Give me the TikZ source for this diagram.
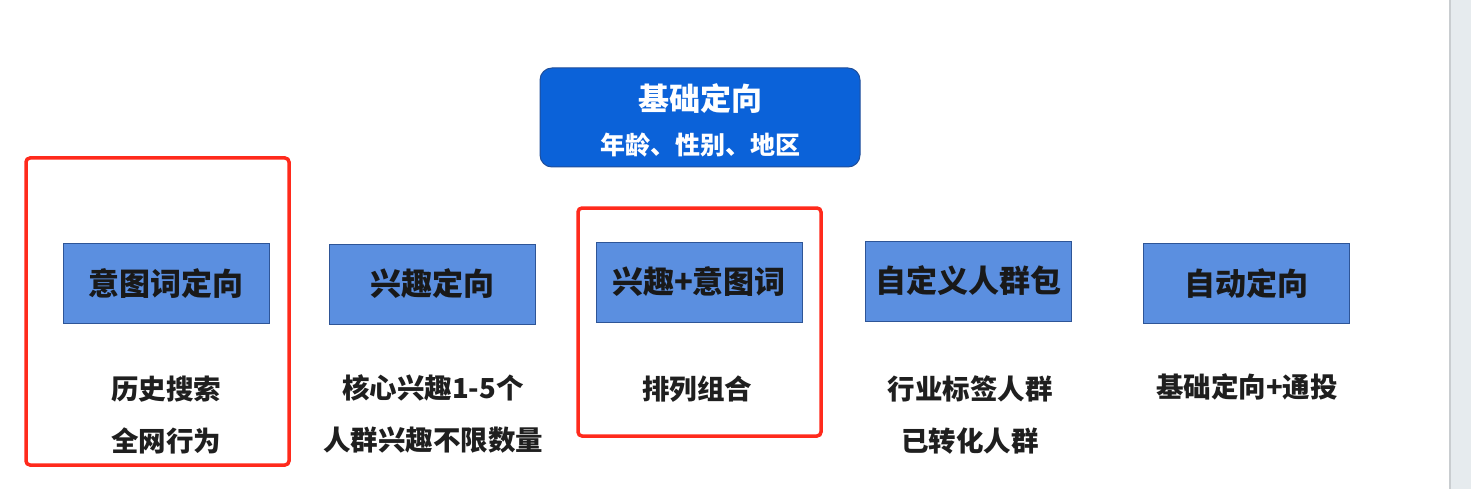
\documentclass[tikz,border=0pt]{standalone}
\usepackage{fontspec}
\setmainfont{Noto Sans CJK SC}
\newfontfamily\cjk{Noto Sans CJK SC}
\definecolor{topblue}{HTML}{0B62D9}
\definecolor{topedge}{HTML}{1F4E9A}
\definecolor{boxblue}{HTML}{5B8FE0}
\definecolor{boxedge}{HTML}{2E5597}
\definecolor{redline}{HTML}{FF2A1C}
\definecolor{barfill}{HTML}{E6EBEE}
\definecolor{barline}{HTML}{C9CDD0}
\tikzset{
  topbox/.style={draw=topedge, line width=1pt, fill=topblue, rounded corners=12pt, minimum width=320pt, minimum height=99pt, inner sep=0pt},
  catbox/.style={draw=boxedge, line width=1pt, fill=boxblue, minimum width=206pt, minimum height=80pt, inner sep=0pt,
     font=\cjk\bfseries\fontsize{31}{36}\selectfont, text=black!90},
  desc/.style={align=center, font=\cjk\bfseries\fontsize{27.5}{52}\selectfont, text=black!88},
  hilite/.style={draw=redline, line width=3.5pt, rounded corners=4pt}
}
\begin{document}
\begin{tikzpicture}[x=1pt,y=-1pt]
\useasboundingbox (0,0) rectangle (1471,489);
\fill[white] (0,0) rectangle (1471,489);
% right side bar
\fill[barfill] (1450,0) rectangle (1471,489);
\draw[barline, line width=1.2pt] (1450,0) -- (1450,489);

\node[topbox] (base) at (700,117.5) {};
\node[text=white, font=\cjk\bfseries\fontsize{31}{36}\selectfont] (baset) at (700,99) {基础定向};
\node[text=white, font=\cjk\bfseries\fontsize{25}{30}\selectfont] (bases) at (700,145) {年龄、性别、地区};

\node[catbox] (c1) at (166,283.5) {意图词定向};
\node[catbox] (c2) at (432.5,284) {兴趣定向};
\node[catbox] (c3) at (699,282) {兴趣+意图词};
\node[catbox] (c4) at (968,281) {自定义人群包};
\node[catbox] (c5) at (1246.5,283.5) {自动定向};

\node[desc] (d1) at (166,415) {历史搜索\\全网行为};
\node[desc] (d2) at (433,414) {核心兴趣1-5个\\人群兴趣不限数量};
\node[desc] (d3) at (697,389) {排列组合};
\node[desc] (d4) at (970,415) {行业标签人群\\已转化人群};
\node[desc] (d5) at (1247,387) {基础定向+通投};

\draw[hilite] (26,158) rectangle (289,465);
\draw[hilite] (578,208) rectangle (821,436);
\end{tikzpicture}
\end{document}
